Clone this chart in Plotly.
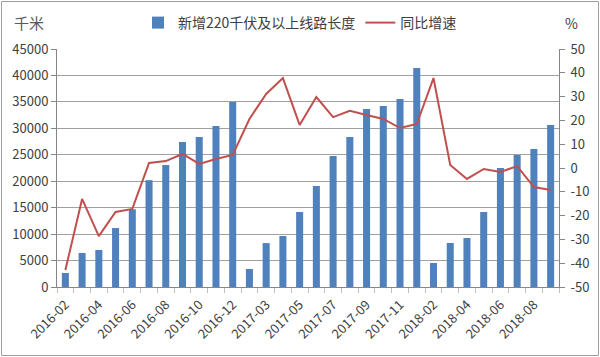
import plotly.graph_objects as go

categories = ["2016-02", "2016-03", "2016-04", "2016-05", "2016-06", "2016-07", "2016-08", "2016-09",
              "2016-10", "2016-11", "2016-12",
              "2017-02", "2017-03", "2017-04", "2017-05", "2017-06", "2017-07", "2017-08", "2017-09",
              "2017-10", "2017-11", "2017-12",
              "2018-02", "2018-03", "2018-04", "2018-05", "2018-06", "2018-07", "2018-08", "2018-09"]

length_km = [2650, 6430, 7000, 11150, 14700, 20200, 23060, 27400, 28350, 30430, 34970,
             3400, 8300, 9640, 14180, 19100, 24760, 28350, 33650, 34220, 35540, 41400,
             4540, 8320, 9260, 14180, 22500, 24950, 26090, 30620]

growth_pct = [-42.9, -13.0, -28.6, -18.5, -17.2, 2.1, 2.9, 5.9, 1.7, 3.8, 5.5,
              20.6, 31.1, 37.8, 18.1, 29.8, 21.4, 24.0, 22.3, 20.6, 16.8, 18.5,
              37.8, 1.3, -4.6, -0.4, -1.7, 0.8, -8.0, -9.2]

left_ticks = [0, 5000, 10000, 15000, 20000, 25000, 30000, 35000, 40000, 45000]
right_ticks = [-50, -40, -30, -20, -10, 0, 10, 20, 30, 40, 50]

tick_text = [c if i % 2 == 0 else "" for i, c in enumerate(categories)]

font_family = "Noto Sans CJK SC"
tick_color = "#404040"

fig = go.Figure()
fig.add_trace(go.Bar(
    x=categories, y=length_km, name="新增220千伏及以上线路长度",
    marker=dict(color="#4F81BD", line=dict(width=0)),
    yaxis="y",
))
fig.add_trace(go.Scatter(
    x=categories, y=growth_pct, name="同比增速", mode="lines",
    line=dict(color="#C0504D", width=2),
    yaxis="y2",
))

W, H = 600, 357
ml, mr, mt, mb = 57, 41, 49, 70
pw, ph = W - ml - mr, H - mt - mb

fig.update_layout(
    width=W, height=H,
    margin=dict(l=ml, r=mr, t=mt, b=mb, autoexpand=False),
    paper_bgcolor="white", plot_bgcolor="white",
    font=dict(family=font_family, size=13, color=tick_color),
    bargap=0.58,
    showlegend=True,
    legend=dict(orientation="h", xref="paper", x=(300 - ml) / pw, xanchor="center",
                yref="paper", y=1 + 26 / ph, yanchor="middle",
                font=dict(size=14, color="#404040"), itemwidth=30, traceorder="normal"),
    xaxis=dict(
        type="category", tickmode="array", tickvals=categories, ticktext=tick_text,
        tickangle=-45, tickson="boundaries", ticks="outside", ticklen=5,
        tickcolor="#BFBFBF", showline=True, linecolor="#868686", linewidth=1,
        showgrid=False, tickfont=dict(size=13, color=tick_color), automargin=False,
        ticklabelstandoff=4,
    ),
    yaxis=dict(
        range=[0, 45000], tickmode="array", tickvals=left_ticks,
        ticktext=[str(v) for v in left_ticks],
        showgrid=True, gridcolor="#A0A0A0", gridwidth=1,
        showline=True, linecolor="#868686", ticks="outside", ticklen=5, tickcolor="#868686",
        tickfont=dict(size=13, color=tick_color), zeroline=False, automargin=False,
    ),
    yaxis2=dict(
        range=[-50, 50], tickmode="array", tickvals=right_ticks,
        ticktext=[str(v) for v in right_ticks],
        overlaying="y", side="right", showgrid=False,
        showline=True, linecolor="#868686", ticks="outside", ticklen=5, tickcolor="#868686",
        tickfont=dict(size=13, color=tick_color), zeroline=False, automargin=False,
        ticklabelstandoff=3,
    ),
    annotations=[
        dict(text="千米", xref="paper", yref="paper", x=-45 / pw, y=1 + 26 / ph,
             xanchor="left", yanchor="middle", showarrow=False,
             font=dict(size=15, color="#595959")),
        dict(text="%", xref="paper", yref="paper", x=1 + 12 / pw, y=1 + 26 / ph,
             xanchor="center", yanchor="middle", showarrow=False,
             font=dict(size=14, color="#404040")),
    ],
    shapes=[
        dict(type="rect", xref="paper", yref="paper",
             x0=-(ml - 1.5) / pw, x1=1 + (mr - 1.5) / pw,
             y0=-(mb - 1.5) / ph, y1=1 + (mt - 1.5) / ph,
             line=dict(color="#A0A0A0", width=1), fillcolor="rgba(0,0,0,0)", layer="below"),
    ],
)

fig.write_html("out.html", config={"displayModeBar": False},
               post_script="document.body.style.margin='0px';")
